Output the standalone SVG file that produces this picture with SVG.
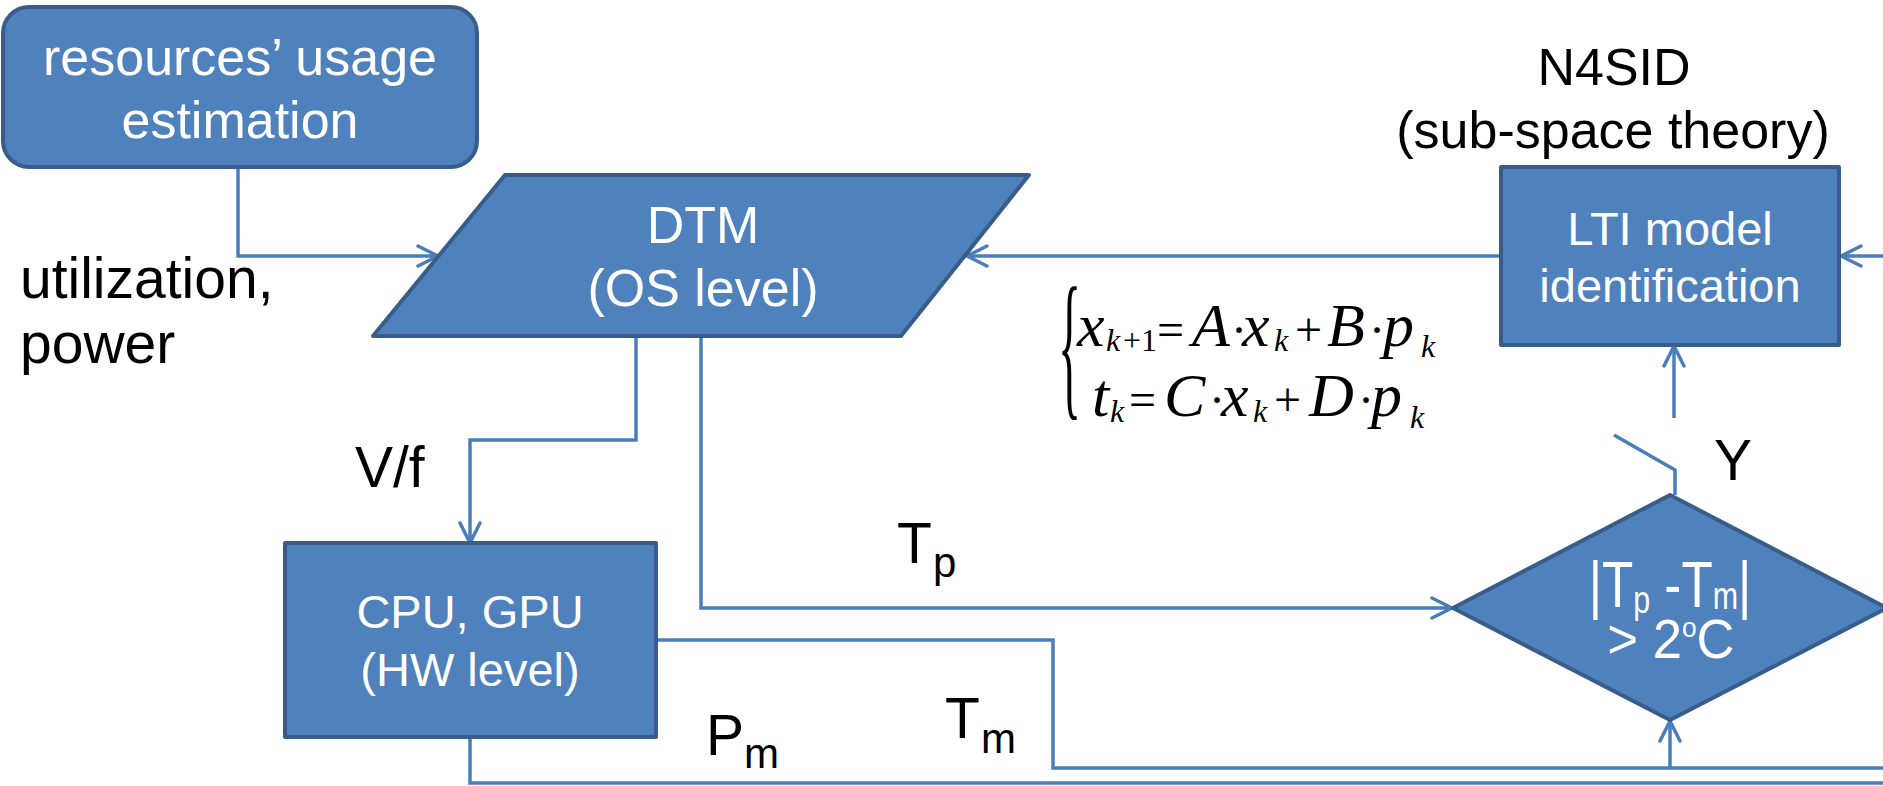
<svg xmlns="http://www.w3.org/2000/svg" width="1883" height="786" viewBox="0 0 1883 786">
<style>
.node{fill:#4F81BD;stroke:#385D8A;stroke-width:4;stroke-linejoin:round}
.nt{font-family:"Liberation Sans",Arial,sans-serif;fill:#FFFFFF;text-anchor:middle}
.lb{font-family:"Liberation Sans",Arial,sans-serif;fill:#000000}
.con{fill:none;stroke:#4A7EBB;stroke-width:3.5;stroke-linejoin:miter}
.eq{font-family:"Liberation Serif","Times New Roman",serif;fill:#000000}
.it{font-style:italic}
</style>
<defs>
<marker id="arr" viewBox="0 0 24 24" refX="22" refY="12" markerWidth="24" markerHeight="24" markerUnits="userSpaceOnUse" orient="auto">
<path d="M2,2 L22,12 L2,22" fill="none" stroke="#4A7EBB" stroke-width="3.5" stroke-linecap="round" stroke-linejoin="round"/>
</marker>
</defs>
<g id="connectors">
<path class="con" d="M238,168 V256 H438" marker-end="url(#arr)"/>
<path class="con" d="M1501,256 H967" marker-end="url(#arr)"/>
<path class="con" d="M1883,256 H1841" marker-end="url(#arr)"/>
<path class="con" d="M636,336 V440 H470 V543" marker-end="url(#arr)"/>
<path class="con" d="M701,336 V608 H1452" marker-end="url(#arr)"/>
<path class="con" d="M656,640 H1053 V768 H1883"/>
<path class="con" d="M1670,768 V721" marker-end="url(#arr)"/>
<path class="con" d="M470,737 V783 H1883"/>
<path class="con" d="M1675,495 V470 L1614,435"/>
<path class="con" d="M1674,418 V346" marker-end="url(#arr)"/>
</g>
<g id="node-resources">
<rect class="node" x="3" y="7" width="474" height="160" rx="26" ry="26"/>
<text class="nt" x="240" y="75" font-size="52">resources’ usage</text>
<text class="nt" x="240" y="138" font-size="52">estimation</text>
</g>
<g id="node-dtm">
<polygon class="node" points="505,175 1029,175 901,336 373,336"/>
<text class="nt" x="703" y="243" font-size="52">DTM</text>
<text class="nt" x="703" y="306" font-size="52">(OS level)</text>
</g>
<g id="node-lti">
<rect class="node" x="1501" y="167" width="338" height="178"/>
<text class="nt" x="1670" y="245" font-size="47">LTI model</text>
<text class="nt" x="1670" y="302" font-size="47">identification</text>
</g>
<g id="node-cpu">
<rect class="node" x="285" y="543" width="371" height="194"/>
<text class="nt" x="470" y="628" font-size="47">CPU, GPU</text>
<text class="nt" x="470" y="686" font-size="47">(HW level)</text>
</g>
<g id="node-decision">
<polygon class="node" points="1670,495 1887,608 1670,720 1453,608"/>
<text class="nt" x="1670" y="607" font-size="64" transform="translate(1670 0) scale(0.8 1) translate(-1670 0)">|T<tspan font-size="38" dy="6">p</tspan><tspan dy="-6"> -T</tspan><tspan font-size="38" dy="2">m</tspan><tspan dy="-2">|</tspan></text>
<text class="nt" x="1671" y="658" font-size="56" transform="translate(1671 0) scale(0.94 1) translate(-1671 0)">&gt; 2<tspan font-size="28" dy="-21">o</tspan><tspan dy="21">C</tspan></text>
</g>
<g id="labels">
<text class="lb" x="20" y="298" font-size="57">utilization,</text>
<text class="lb" x="20" y="363" font-size="57">power</text>
<text class="lb" x="1614" y="85" font-size="52" text-anchor="middle">N4SID</text>
<text class="lb" x="1613" y="148" font-size="52" text-anchor="middle">(sub-space theory)</text>
<text class="lb" x="355" y="487" font-size="57">V/f</text>
<text class="lb" x="1714" y="480" font-size="57">Y</text>
<text class="lb" font-size="57"><tspan x="897" y="563">T</tspan><tspan x="933" y="577" font-size="42">p</tspan></text>
<text class="lb" font-size="57"><tspan x="706" y="755">P</tspan><tspan x="744" y="768" font-size="42">m</tspan></text>
<text class="lb" font-size="57"><tspan x="945" y="738">T</tspan><tspan x="981" y="753" font-size="42">m</tspan></text>
</g>
<g id="equation" class="eq">
<text transform="translate(1058,398) scale(0.3,1)" font-size="160">{</text>
<text font-size="62"><tspan class="it" x="1077" y="346">x</tspan><tspan class="it" x="1106" y="351" font-size="32">k</tspan><tspan x="1123" y="351" font-size="32">+1</tspan><tspan x="1157" y="346" font-size="48">=</tspan><tspan class="it" x="1192" y="346">A</tspan><tspan x="1231" y="346" font-size="48">·</tspan><tspan class="it" x="1242" y="346">x</tspan><tspan class="it" x="1274" y="351" font-size="32">k</tspan><tspan x="1295" y="346" font-size="48">+</tspan><tspan class="it" x="1327" y="346">B</tspan><tspan x="1369" y="346" font-size="48">·</tspan><tspan class="it" x="1383" y="346">p</tspan><tspan class="it" x="1421" y="357" font-size="32">k</tspan></text>
<text font-size="62"><tspan class="it" x="1092" y="416">t</tspan><tspan class="it" x="1110" y="422" font-size="32">k</tspan><tspan x="1129" y="416" font-size="48">=</tspan><tspan class="it" x="1164" y="416">C</tspan><tspan x="1209" y="416" font-size="48">·</tspan><tspan class="it" x="1221" y="416">x</tspan><tspan class="it" x="1253" y="422" font-size="32">k</tspan><tspan x="1274" y="416" font-size="48">+</tspan><tspan class="it" x="1309" y="416">D</tspan><tspan x="1358" y="416" font-size="48">·</tspan><tspan class="it" x="1371" y="416">p</tspan><tspan class="it" x="1410" y="428" font-size="32">k</tspan></text>
</g>
</svg>
